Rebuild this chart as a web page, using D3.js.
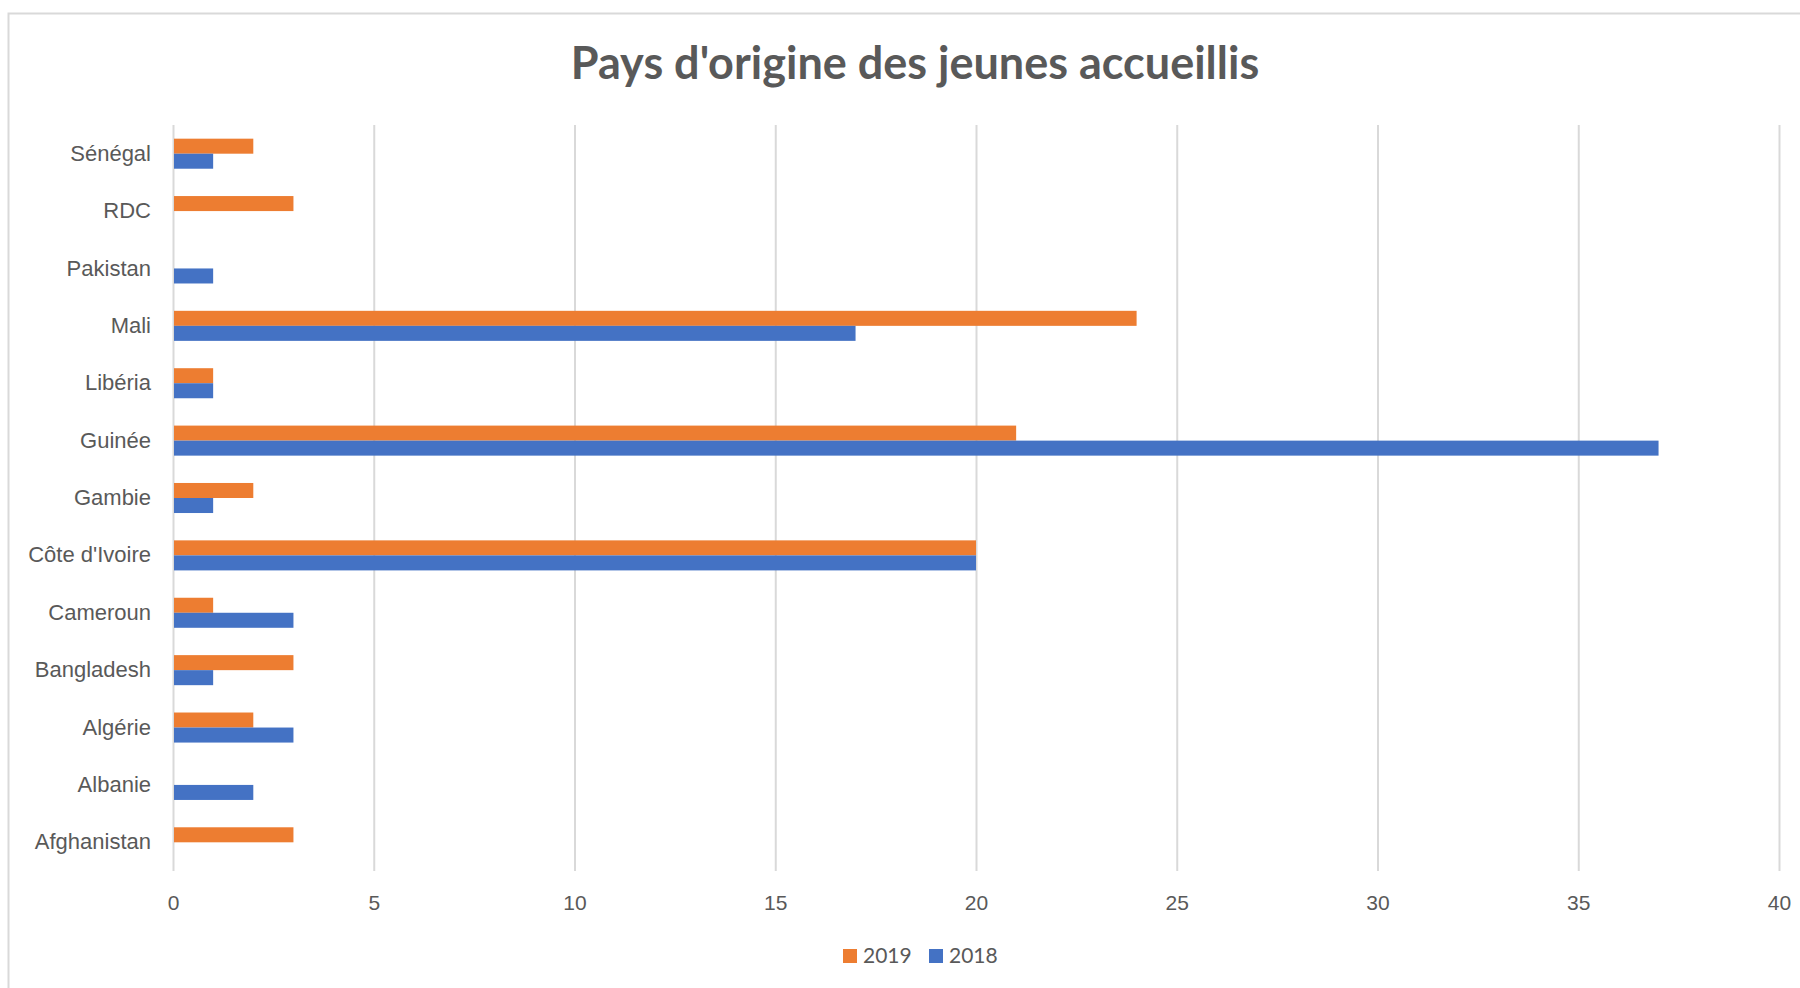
<!DOCTYPE html>
<html>
<head>
<meta charset="utf-8">
<script src="https://cdn.jsdelivr.net/npm/d3@7"></script>
<style>
    body { margin: 0; background: #fff; }
    svg { display: block; font-family: Lato, "Open Sans", sans-serif; }
</style>
</head>
<body>
<div id="chart"></div>
<script>
// categories, top to bottom as drawn
let countries = ["Sénégal", "RDC", "Pakistan", "Mali", "Libéria", "Guinée", "Gambie",
    "Côte d'Ivoire", "Cameroun", "Bangladesh", "Algérie", "Albanie", "Afghanistan"];
let values2019 = [2, 3, 0, 24, 1, 21, 2, 20, 1, 3, 2, 0, 3];
let values2018 = [1, 0, 1, 17, 1, 37, 1, 20, 3, 1, 3, 2, 0];
let seriesNames = ["2019", "2018"];
let seriesColors = ["#ED7D31", "#4472C4"];
let xTicks = [0, 5, 10, 15, 20, 25, 30, 35, 40];

let chartWidth = 1800;
let chartHeight = 988;
let plot = { left: 173, right: 1779, top: 125, bottom: 871 };

let rows = countries.map(function (c, i) {
    return { country: c, values: [values2019[i], values2018[i]] };
});

let svg = d3.select("#chart").append("svg")
    .attr("width", chartWidth)
    .attr("height", chartHeight);

// chart area border (runs off the right/bottom edge)
svg.append("rect")
    .attr("x", 8.5).attr("y", 13.5)
    .attr("width", 1900).attr("height", 1100)
    .attr("fill", "none")
    .attr("stroke", "#d9d9d9")
    .attr("stroke-width", 2);

let x = d3.scaleLinear()
    .domain([0, 40])
    .range([plot.left, plot.right]);

let y = d3.scaleBand()
    .domain(countries)
    .range([plot.top, plot.bottom])
    .padding(0);

let ySub = d3.scaleBand()
    .domain(seriesNames)
    .range([0, y.bandwidth()])
    .paddingInner(0)
    .paddingOuter(0.91);

// gridlines + x labels
let xAxis = svg.append("g")
    .attr("transform", "translate(0," + plot.bottom + ")")
    .call(d3.axisBottom(x)
        .tickValues(xTicks)
        .tickSize(-(plot.bottom - plot.top))
        .tickPadding(24));

xAxis.select(".domain").remove();
xAxis.selectAll(".tick line")
    .attr("stroke", "#d9d9d9")
    .attr("stroke-width", 2);
xAxis.selectAll(".tick text")
    .attr("fill", "#595959")
    .style("font-size", "21px");

// category labels
let yAxis = svg.append("g")
    .attr("transform", "translate(" + plot.left + ",0)")
    .call(d3.axisLeft(y).tickSize(0).tickPadding(22));

yAxis.select(".domain").remove();
yAxis.selectAll(".tick text")
    .attr("fill", "#595959")
    .style("font-size", "22px");

// bars
let groups = svg.selectAll(".row")
    .data(rows)
    .enter()
    .append("g")
    .attr("class", "row")
    .attr("transform", function (d) {
        return "translate(0," + y(d.country) + ")";
    });

groups.selectAll("rect")
    .data(function (d) {
        return d.values.map(function (v, i) {
            return { series: seriesNames[i], value: v, color: seriesColors[i] };
        });
    })
    .enter()
    .append("rect")
    .attr("x", x(0) + 1)
    .attr("y", function (d) { return ySub(d.series); })
    .attr("width", function (d) { return Math.max(0, x(d.value) - x(0) - 1); })
    .attr("height", ySub.bandwidth())
    .attr("fill", function (d) { return d.color; });

// title
svg.append("text")
    .attr("x", 915)
    .attr("y", 79)
    .attr("text-anchor", "middle")
    .attr("fill", "#595959")
    .style("font-size", "45px")
    .style("font-weight", "bold")
    .text("Pays d'origine des jeunes accueillis");

// legend
let legend = svg.append("g")
    .attr("transform", "translate(843,949)");

let legendX = [0, 86];
seriesNames.forEach(function (name, i) {
    let item = legend.append("g")
        .attr("transform", "translate(" + legendX[i] + ",0)");
    item.append("rect")
        .attr("width", 14)
        .attr("height", 14)
        .attr("fill", seriesColors[i]);
    item.append("text")
        .attr("x", 20)
        .attr("y", 14)
        .attr("fill", "#595959")
        .style("font-size", "21px")
        .text(name);
});
</script>
</body>
</html>
